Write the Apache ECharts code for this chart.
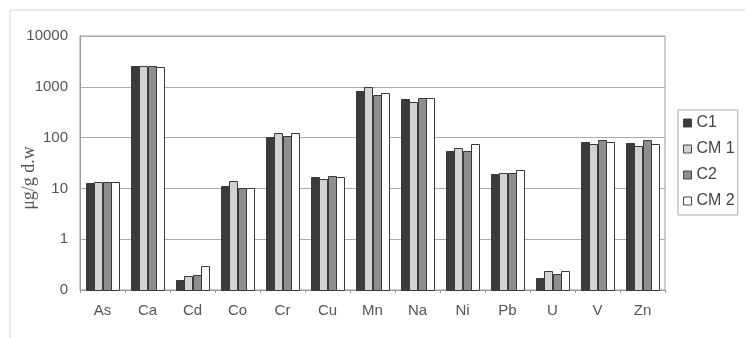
<!DOCTYPE html>
<html><head><meta charset="utf-8">
<script src="https://cdn.jsdelivr.net/npm/echarts@6/dist/echarts.min.js"></script>
<style>html,body{margin:0;padding:0;background:#fff}#c{width:745px;height:338px}</style>
</head><body><div id="c"></div>
<script>
const categories = ['As','Ca','Cd','Co','Cr','Cu','Mn','Na','Ni','Pb','U','V','Zn'];
const seriesNames = ['C1','CM 1','C2','CM 2'];
const C1  = [12.6, 2570, 0.157, 11.1, 101, 16.7, 830, 570, 55.6, 19.4, 0.17, 83.6, 78.7];
const CM1 = [13.3, 2570, 0.188, 13.9, 123, 15.5, 980, 508, 63, 20.5, 0.24, 74, 69.7];
const C2  = [13.3, 2570, 0.197, 10.3, 106, 17.4, 705, 600, 55.6, 19.7, 0.21, 90, 90];
const CM2 = [13.3, 2400, 0.30, 10.3, 123, 16.4, 750, 600, 74, 22.9, 0.235, 83.6, 74];
const yTicks = [0.1, 1, 10, 100, 1000, 10000];
const colors = ['#3b3b3b', '#d2d2d2', '#8e8e8e', '#ffffff'];

const chart = echarts.init(document.getElementById('c'), null, {renderer:'canvas'});
const data = [C1, CM1, C2, CM2];
const nSeries = data.length;
const groupFrac = 0.73;
const baseValue = yTicks[0];

function makeRender(si) {
  return function (params, api) {
    const idx = api.value(0);
    const val = api.value(1);
    const top = api.coord([idx, val]);
    const base = api.coord([idx, baseValue]);
    const band = api.size([1, 0])[0];
    const group = band * groupFrac;
    const bw = group / nSeries;
    const x = top[0] - group / 2 + si * bw;
    return {
      type: 'rect',
      shape: {x: Math.round(x) + 0.5, y: Math.round(top[1]) + 0.5, width: Math.round(bw), height: Math.round(base[1]) - Math.round(top[1])},
      style: {fill: colors[si], stroke: '#3a3a3a', lineWidth: 1}
    };
  };
}

chart.setOption({
  animation: false,
  backgroundColor: '#fff',
  grid: {left: 80, right: 80, top: 36, bottom: 48, show: true, borderColor: '#9a9a9a', borderWidth: 1},
  legend: {
    orient: 'vertical', left: 678, top: 110,
    itemWidth: 8, itemHeight: 8, itemGap: 10, itemTextGap: 4,
    icon: 'rect',
    textStyle: {fontFamily: 'Liberation Sans', fontSize: 16, color: '#444'},
    borderColor: '#aaa', borderWidth: 1, padding: [5, 3, 6, 5],
    data: seriesNames.map((n, i) => ({name: n, itemStyle: {color: colors[i], borderColor: '#444', borderWidth: 1}}))
  },
  xAxis: {
    type: 'category', data: categories,
    axisLine: {lineStyle: {color: '#9a9a9a'}},
    axisTick: {show: true, length: 3, lineStyle: {color: '#9a9a9a'}},
    axisLabel: {fontFamily: 'Liberation Sans', fontSize: 15, color: '#555', margin: 13}
  },
  yAxis: {
    type: 'log', logBase: 10, min: yTicks[0], max: yTicks[yTicks.length-1],
    axisLine: {show: true, lineStyle: {color: '#9a9a9a'}},
    axisTick: {show: false},
    splitLine: {lineStyle: {color: '#ababab'}},
    axisLabel: {fontFamily: 'Liberation Sans', fontSize: 15, color: '#555', margin: 12,
      formatter: v => v < 1 ? '0' : String(Math.round(v))}
  },
  graphic: [
    {type: 'line', shape: {x1: 10, y1: 10, x2: 745, y2: 10}, style: {stroke: '#d4d4d4', lineWidth: 1}},
    {type: 'line', shape: {x1: 10, y1: 10, x2: 10, y2: 338}, style: {stroke: '#d4d4d4', lineWidth: 1}},
    {type: 'text', x: 29, y: 178, rotation: Math.PI / 2,
      style: {text: 'μg/g d.w', font: '18px "Liberation Serif"', fill: '#555', align: 'center', verticalAlign: 'middle'}}
  ],
  series: seriesNames.map((n, i) => ({
    name: n, type: 'custom', renderItem: makeRender(i),
    itemStyle: {color: colors[i], borderColor: '#3a3a3a', borderWidth: 1},
    encode: {x: 0, y: 1},
    data: data[i].map((v, k) => [k, v])
  }))
});
</script></body></html>
